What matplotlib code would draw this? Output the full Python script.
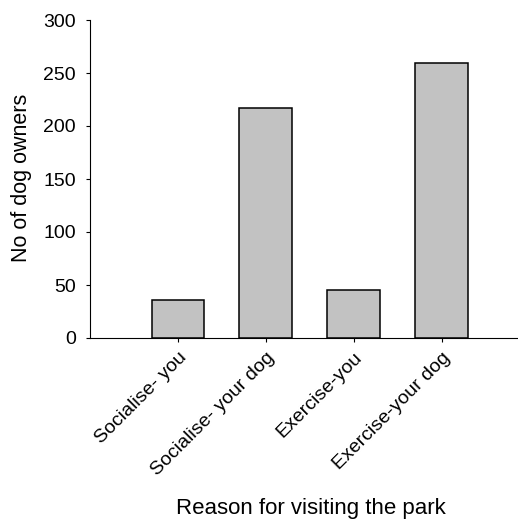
import matplotlib.pyplot as plt

plt.rcParams['font.family'] = ['Liberation Sans', 'DejaVu Sans']

reasons = ['Socialise- you', 'Socialise- your dog', 'Exercise-you', 'Exercise-your dog']
owners = [36, 217, 45, 259]
positions = [1, 2, 3, 4]

fig = plt.figure(figsize=(5.18, 5.21), dpi=100)
ax = fig.add_axes([90 / 518, 1 - 338 / 521, 1 - 90 / 518, 318 / 521])

ax.bar(positions, owners, width=0.6, color='#c2c2c2', edgecolor='black', linewidth=1.1)

ax.set_xlim(0, 4.87)
ax.set_ylim(0, 300)
ax.set_yticks([0, 50, 100, 150, 200, 250, 300])
ax.set_xticks(positions)
ax.set_xticklabels(reasons, rotation=45, ha='right', va='top', rotation_mode='anchor', fontsize=14)
ax.tick_params(axis='y', labelsize=14, length=3, direction='out', pad=7)
ax.tick_params(axis='x', length=3, direction='out', pad=5)

ax.spines['top'].set_visible(False)
ax.spines['right'].set_visible(False)

ax.set_ylabel('No of dog owners', fontsize=15.5)
ax.yaxis.set_label_coords(-0.135, 0.503)
ax.set_xlabel('Reason for visiting the park', fontsize=16, va='bottom')
ax.xaxis.set_label_coords(0.516, -0.57)

fig.savefig('out.png', dpi=100)
